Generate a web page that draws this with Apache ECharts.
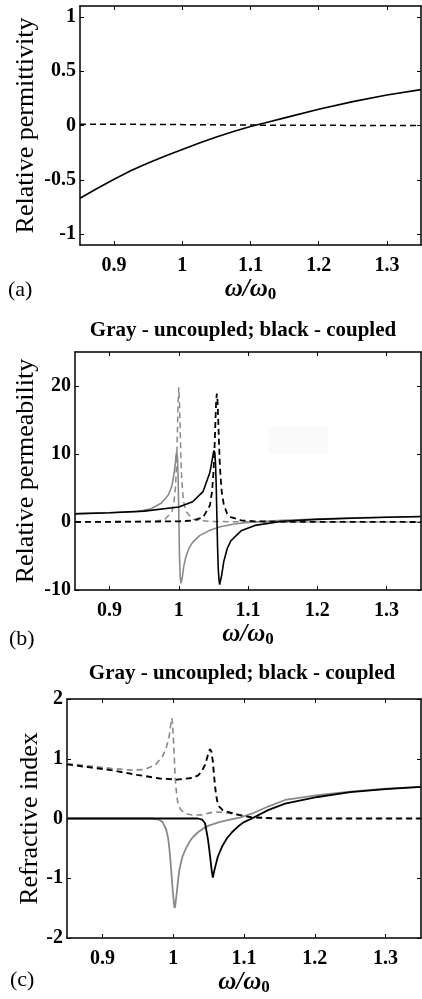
<!DOCTYPE html>
<html>
<head>
<meta charset="utf-8">
<script src="https://cdn.jsdelivr.net/npm/echarts@6/dist/echarts.min.js"></script>
<style>
  html, body { margin: 0; padding: 0; background: #fff; }
  #chart { width: 422px; height: 999px; }
</style>
</head>
<body>
<div id="chart"></div>
<script>
// ---- (a) relative permittivity ----
var wEps = [0.85, 0.875, 0.9, 0.925, 0.95, 0.975, 1.0, 1.025, 1.05, 1.075, 1.1, 1.125, 1.15, 1.2, 1.25, 1.3, 1.35];
var epsReal = [-0.67, -0.58, -0.495, -0.415, -0.345, -0.28, -0.22, -0.16, -0.105, -0.055, -0.01, 0.03, 0.07, 0.15, 0.22, 0.28, 0.33];
var wEpsIm = [0.85, 0.95, 1.05, 1.15, 1.35];
var epsImag = [0.012, 0.01, 0.006, 0.002, 0];

// ---- (b) relative permeability ----
// gray - uncoupled
var wMuU = [0.85, 0.9, 0.94, 0.96, 0.975, 0.985, 0.99, 0.993, 0.995, 0.996, 0.997, 0.998, 0.999, 1.0, 1.001,
            1.002, 1.003, 1.004, 1.005, 1.007, 1.01, 1.015, 1.02, 1.03, 1.045, 1.06, 1.08, 1.1, 1.15, 1.2, 1.25, 1.3, 1.35];
var muUReal = [1.25, 1.35, 1.55, 1.95, 2.8, 4.0, 5.3, 7.0, 8.6, 9.8, 10.3, 9.6, 6.8, 1.0, -5.0,
               -8.0, -9.0, -8.9, -8.2, -6.6, -5.2, -3.8, -3.0, -2.0, -1.2, -0.7, -0.3, -0.05, 0.25, 0.45, 0.6, 0.7, 0.78];
var wMuUIm = [0.85, 0.95, 0.97, 0.98, 0.99, 0.993, 0.995, 0.996, 0.997, 0.998, 0.999, 1.0, 1.001, 1.002,
              1.003, 1.004, 1.005, 1.007, 1.01, 1.02, 1.03, 1.05, 1.1, 1.35];
var muUImag = [0.01, 0.06, 0.17, 0.4, 1.5, 2.9, 4.95, 6.8, 9.5, 13.4, 17.7, 19.8, 17.7, 13.5,
               9.6, 6.9, 5.1, 3.0, 1.6, 0.43, 0.2, 0.07, 0.02, 0];
// black - coupled
var wMuC = [0.85, 0.9, 0.95, 1.0, 1.02, 1.035, 1.045, 1.048, 1.05, 1.051, 1.052, 1.053, 1.054, 1.055, 1.056,
            1.057, 1.058, 1.059, 1.06, 1.062, 1.065, 1.07, 1.075, 1.09, 1.11, 1.15, 1.2, 1.25, 1.3, 1.35];
var muCReal = [1.2, 1.35, 1.6, 2.2, 2.98, 4.46, 7.33, 9.0, 10.2, 10.5, 10.1, 8.7, 5.6, 1.0, -3.6,
               -6.8, -8.4, -9.2, -9.3, -7.8, -5.8, -3.9, -2.8, -1.3, -0.5, 0.12, 0.38, 0.55, 0.7, 0.8];
var wMuCIm = [0.85, 1.0, 1.02, 1.035, 1.045, 1.048, 1.05, 1.051, 1.052, 1.053, 1.054, 1.055, 1.056, 1.057,
              1.058, 1.059, 1.06, 1.062, 1.065, 1.07, 1.075, 1.09, 1.11, 1.15, 1.35];
var muCImag = [0, 0.09, 0.22, 0.67, 2.46, 4.44, 7.14, 9.2, 11.9, 15.0, 17.8, 18.9, 17.8, 15.0,
               11.9, 9.2, 7.2, 4.5, 2.55, 1.2, 0.72, 0.25, 0.1, 0.04, 0];

// ---- (c) refractive index ----
var wNU = [0.85, 0.97, 0.98, 0.985, 0.99, 0.993, 0.995, 0.997, 0.999, 1.001, 1.002, 1.003, 1.005, 1.007,
           1.009, 1.013, 1.018, 1.023, 1.028, 1.035, 1.042, 1.05, 1.065, 1.08, 1.095, 1.111, 1.134, 1.158,
           1.204, 1.25, 1.3, 1.35];
var nUReal = [0, 0, -0.02, -0.06, -0.18, -0.34, -0.55, -0.84, -1.15, -1.42, -1.5, -1.45, -1.25, -1.02,
              -0.84, -0.64, -0.5, -0.39, -0.31, -0.23, -0.17, -0.12, -0.06, -0.02, 0.02, 0.08, 0.2, 0.31,
              0.39, 0.45, 0.5, 0.53];
var wNUIm = [0.85, 0.88, 0.912, 0.94, 0.96, 0.975, 0.985, 0.99, 0.994, 0.996, 0.997, 0.998, 0.999, 1.0,
             1.001, 1.002, 1.003, 1.005, 1.007, 1.01, 1.014, 1.02, 1.028, 1.04, 1.05, 1.058, 1.074, 1.093,
             1.11, 1.15, 1.35];
var nUImag = [0.92, 0.88, 0.84, 0.81, 0.82, 0.9, 1.04, 1.18, 1.35, 1.52, 1.62, 1.68, 1.6, 1.4,
              1.15, 0.9, 0.65, 0.38, 0.24, 0.16, 0.11, 0.075, 0.056, 0.06, 0.09, 0.11, 0.1, 0.06,
              0.02, 0, 0];
var wNC = [0.85, 1.035, 1.041, 1.045, 1.049, 1.051, 1.053, 1.0545, 1.056, 1.0575, 1.06, 1.063, 1.069,
           1.076, 1.083, 1.093, 1.1, 1.111, 1.134, 1.158, 1.204, 1.25, 1.3, 1.35];
var nCReal = [0, 0, -0.02, -0.08, -0.34, -0.52, -0.73, -0.88, -0.99, -0.9, -0.78, -0.64, -0.47,
              -0.33, -0.23, -0.12, -0.06, 0, 0.14, 0.25, 0.36, 0.44, 0.49, 0.53];
var wNCIm = [0.85, 0.88, 0.912, 0.949, 0.981, 1.005, 1.028, 1.035, 1.04, 1.045, 1.049, 1.052, 1.053,
             1.054, 1.056, 1.058, 1.06, 1.062, 1.065, 1.07, 1.08, 1.093, 1.11, 1.15, 1.35];
var nCImag = [0.905, 0.86, 0.81, 0.73, 0.67, 0.65, 0.68, 0.72, 0.78, 0.9, 1.06, 1.16, 1.18,
              1.12, 0.95, 0.68, 0.45, 0.3, 0.2, 0.14, 0.1, 0.06, 0.02, 0, 0];

// tick values
var xTicks = [0.9, 1, 1.1, 1.2, 1.3];
var yTicksA = [-1, -0.5, 0, 0.5, 1];
var yTicksB = [-10, 0, 10, 20];
var yTicksC = [-2, -1, 0, 1, 2];

var serif = '"Liberation Serif", "Times New Roman", serif';
var GRAY = '#8a8a8a';

function pairs(xs, ys) {
  return xs.map(function (x, i) { return [x, ys[i]]; });
}

function xAx(i, pos) {
  var main = pos === 'bottom';
  return {
    type: 'value', gridIndex: i, position: pos, min: 0.85, max: 1.35,
    axisLine: { show: true, onZero: false, lineStyle: { color: '#000', width: 1.5 } },
    axisTick: { show: true, inside: true, length: 4, customValues: xTicks, lineStyle: { color: '#000' } },
    axisLabel: {
      show: main, customValues: xTicks, margin: 11, color: '#000',
      fontFamily: serif, fontWeight: 'bold', fontSize: 20
    },
    splitLine: { show: false },
    name: main ? '{w|ω/ω}{s|0}' : '',
    nameLocation: 'middle', nameGap: 32, nameMoveOverlap: false,
    nameTextStyle: {
      rich: {
        w: { fontFamily: serif, fontWeight: 'bold', fontStyle: 'italic', fontSize: 25, color: '#000' },
        s: { fontFamily: serif, fontWeight: 'bold', fontSize: 17, color: '#000', padding: [9, 0, 0, 0] }
      }
    }
  };
}

function yAx(i, pos, min, max, ticks, name, gap) {
  var main = pos === 'left';
  return {
    type: 'value', gridIndex: i, position: pos, min: min, max: max,
    axisLine: { show: true, onZero: false, lineStyle: { color: '#000', width: 1.5 } },
    axisTick: { show: true, inside: true, length: 4, customValues: ticks, lineStyle: { color: '#000' } },
    axisLabel: {
      show: main, customValues: ticks, margin: 4, color: '#000',
      fontFamily: serif, fontWeight: 'bold', fontSize: 20
    },
    splitLine: { show: false },
    name: main ? name : '',
    nameLocation: 'middle', nameGap: gap, nameMoveOverlap: false,
    nameTextStyle: { fontFamily: serif, fontSize: 26, color: '#000' }
  };
}

function line(data, xi, color, dashed, width) {
  return {
    type: 'line', xAxisIndex: xi, yAxisIndex: xi, data: data,
    showSymbol: false, symbol: 'none', animation: false, silent: true,
    lineStyle: { color: color, width: width, type: dashed ? [6, 4] : 'solid' }
  };
}

var chart = echarts.init(document.getElementById('chart'));

var option = {
  backgroundColor: '#fff',
  animation: false,
  grid: [
    { left: 80, top: 6, width: 341, height: 239 },
    { left: 75, top: 352, width: 346, height: 238 },
    { left: 67, top: 699, width: 354, height: 239 }
  ],
  xAxis: [
    xAx(0, 'bottom'), xAx(0, 'top'),
    xAx(1, 'bottom'), xAx(1, 'top'),
    xAx(2, 'bottom'), xAx(2, 'top')
  ],
  yAxis: [
    yAx(0, 'left', -1.1, 1.1, yTicksA, 'Relative permittivity', 41),
    yAx(0, 'right', -1.1, 1.1, yTicksA, '', 0),
    yAx(1, 'left', -10, 25, yTicksB, 'Relative permeability', 36),
    yAx(1, 'right', -10, 25, yTicksB, '', 0),
    yAx(2, 'left', -2, 2, yTicksC, 'Refractive index', 24),
    yAx(2, 'right', -2, 2, yTicksC, '', 0)
  ],
  series: [
    // (a)
    line(pairs(wEpsIm, epsImag), 0, '#000', true, 1.5),
    line(pairs(wEps, epsReal), 0, '#000', false, 1.6),
    // (b) gray then black
    line(pairs(wMuUIm, muUImag), 2, GRAY, true, 1.5),
    line(pairs(wMuU, muUReal), 2, GRAY, false, 1.6),
    line(pairs(wMuCIm, muCImag), 2, '#000', true, 1.8),
    line(pairs(wMuC, muCReal), 2, '#000', false, 1.6),
    // (c)
    line(pairs(wNUIm, nUImag), 4, GRAY, true, 1.6),
    line(pairs(wNU, nUReal), 4, GRAY, false, 1.8),
    line(pairs(wNCIm, nCImag), 4, '#000', true, 1.9),
    line(pairs(wNC, nCReal), 4, '#000', false, 1.8)
  ],
  graphic: [
    { type: 'rect', z: -1, shape: { x: 268, y: 427, width: 60, height: 27 }, style: { fill: '#fafafa' } },
    { type: 'text', x: 243, y: 331, style: { text: 'Gray - uncoupled; black - coupled', font: 'bold 21px ' + serif, fill: '#000', textAlign: 'center', textVerticalAlign: 'middle' } },
    { type: 'text', x: 242, y: 674, style: { text: 'Gray - uncoupled; black - coupled', font: 'bold 21px ' + serif, fill: '#000', textAlign: 'center', textVerticalAlign: 'middle' } },
    { type: 'text', x: 8, y: 290, style: { text: '(a)', font: '22px ' + serif, fill: '#000', textVerticalAlign: 'middle' } },
    { type: 'text', x: 9, y: 639, style: { text: '(b)', font: '22px ' + serif, fill: '#000', textVerticalAlign: 'middle' } },
    { type: 'text', x: 10, y: 980, style: { text: '(c)', font: '22px ' + serif, fill: '#000', textVerticalAlign: 'middle' } }
  ]
};

chart.setOption(option);
</script>
</body>
</html>
